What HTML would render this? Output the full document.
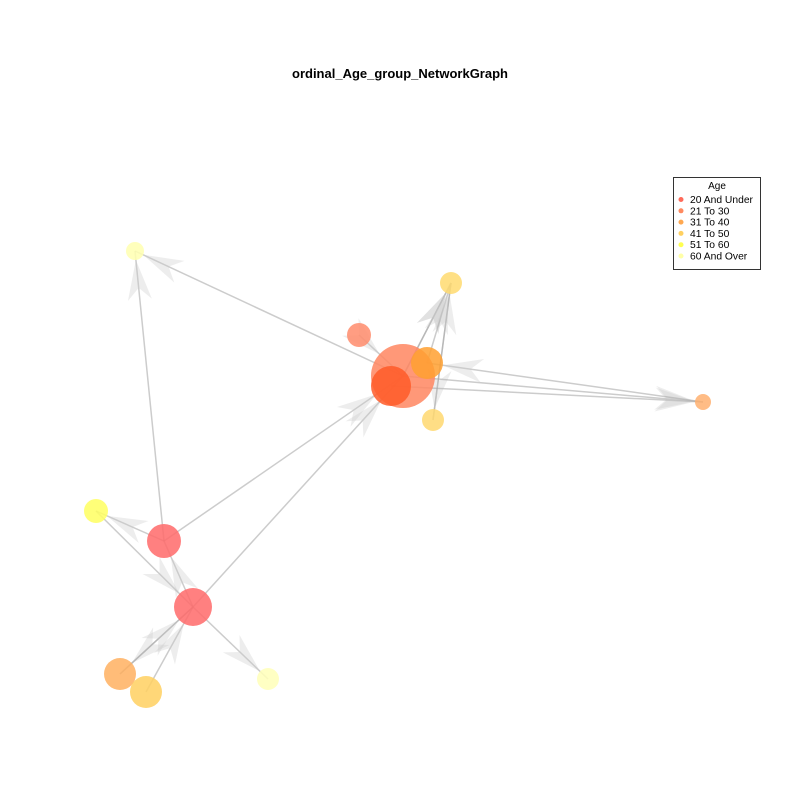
<!DOCTYPE html>
<html><head><meta charset="utf-8"><style>
body{margin:0;background:#fff;}
svg{display:block;font-family:"Liberation Sans",sans-serif;}
</style></head><body>
<svg id="chart" width="800" height="800">
<rect width="800" height="800" fill="#fff"/>
<text x="400" y="78" text-anchor="middle" font-size="13" font-weight="bold">ordinal_Age_group_NetworkGraph</text>
<g id="edges"></g>
<g id="nodes"></g>
<g>
<rect x="673.5" y="177.5" width="87" height="92" fill="#fff" stroke="#333" stroke-width="1"/>
<text x="717" y="189" text-anchor="middle" font-size="10">Age</text>
<g id="legend-items"></g>
</g>
</svg>
<script>
const nodeIds=["A","B","C","D","E","F","G","H","I","J","K","L","M","N"];
const nodeX=[135,451,359,403,427,391,433,703,96,164,193,120,146,268];
const nodeY=[251,283,335,376,363,386,420,402,511,541,607,674,692,679];
const nodeR=[9,11,12,32,16,20,11,8,12,17,19,16,16,11];
const nodeGroup=[5,3,1,1,2,0,3,2,4,0,0,2,3,5];
const groupNames=["20 And Under","21 To 30","31 To 40","41 To 50","51 To 60","60 And Over"];
const groupColors=["#ff6a5a","#ff8a60","#ffa850","#ffd060","#ffff50","#ffffa8"];
const nodeColors=["#ffffb0","#ffdb70","#ff8c6c","#ff8660","#ffa030","#ff5a28","#ffd870","#ffb070","#ffff60","#ff6a6a","#ff6a6a","#ffb060","#ffd060","#ffffb8"];
const edgeFrom=["D","J","D","D","G","B","E","D","K","J","K","K","K","I","J","C","F","H","M","L"];
const edgeTo=["A","A","B","B","B","G","B","H","D","D","J","N","L","K","I","D","H","E","K","K"];
const NS="http://www.w3.org/2000/svg";
const eg=document.getElementById('edges'),ng=document.getElementById('nodes');
const idx=id=>nodeIds.indexOf(id);
edgeFrom.forEach((f,i)=>{
  const a=idx(f),b=idx(edgeTo[i]);
  const x1=nodeX[a],y1=nodeY[a],x2=nodeX[b],y2=nodeY[b];
  const l=document.createElementNS(NS,'line');
  
  
  l.setAttribute('x1',x1);l.setAttribute('y1',y1);l.setAttribute('x2',x2);l.setAttribute('y2',y2);
  l.setAttribute('stroke','#aaa');l.setAttribute('stroke-opacity','0.6');l.setAttribute('stroke-width','1.5');
  eg.appendChild(l);
  const dx=x2-x1,dy=y2-y1,L=Math.hypot(dx,dy),ux=dx/L,uy=dy/L;
  const tx=x2-ux*nodeR[b],ty=y2-uy*nodeR[b];
  const bx=tx-ux*40,by=ty-uy*40;
  const p=document.createElementNS(NS,'polygon');
  
  
  p.setAttribute('points',`${tx},${ty} ${bx-uy*12},${by+ux*12} ${tx-ux*28},${ty-uy*28} ${bx+uy*12},${by-ux*12}`);
  p.setAttribute('fill','#ccc');p.setAttribute('fill-opacity','0.35');
  eg.appendChild(p);
});
nodeIds.forEach((id,i)=>{
  const c=document.createElementNS(NS,'circle');
  
  
  c.setAttribute('cx',nodeX[i]);c.setAttribute('cy',nodeY[i]);c.setAttribute('r',nodeR[i]);
  c.setAttribute('fill',nodeColors[i]);c.setAttribute('fill-opacity','0.85');
  ng.appendChild(c);
});
const lg=document.getElementById('legend-items');
groupNames.forEach((n,i)=>{
  const y=203+i*11.3;
  const c=document.createElementNS(NS,'circle');
  
  
  c.setAttribute('cx',681);c.setAttribute('cy',y-3.5);c.setAttribute('r',2.5);c.setAttribute('fill',groupColors[i]);
  lg.appendChild(c);
  const t=document.createElementNS(NS,'text');
  
  
  t.setAttribute('x',690);t.setAttribute('y',y);t.setAttribute('font-size','10.3');
  t.textContent=n;lg.appendChild(t);
});
</script>
</body></html>
